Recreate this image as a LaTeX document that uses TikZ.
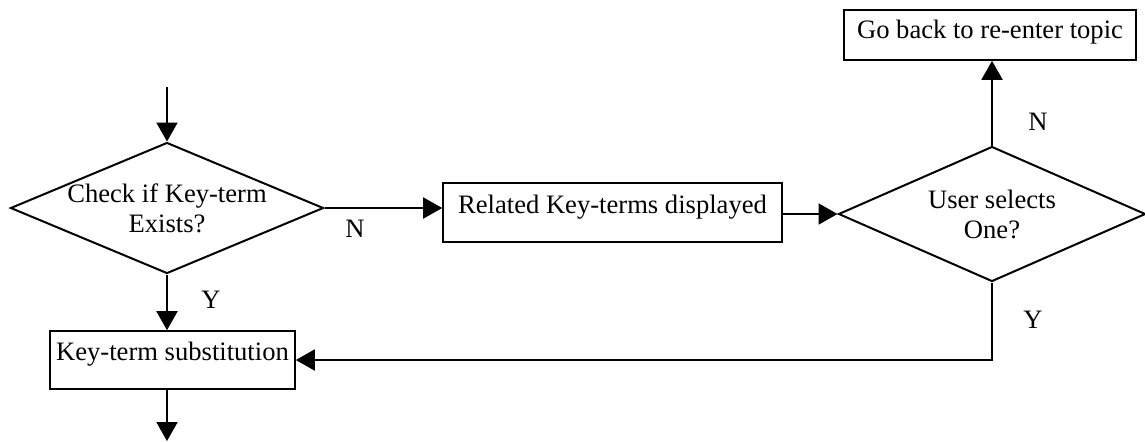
\documentclass[tikz,border=0pt]{standalone}
\usepackage{fontspec}
\setmainfont{Liberation Serif}
\usetikzlibrary{arrows.meta,shapes.geometric}
\tikzset{
  dec/.style={diamond, draw, line width=1pt, aspect=2.35, inner sep=-3pt,
      align=center, font=\fontsize{13.3}{15}\selectfont},
  dbox/.style={rectangle, draw, line width=0.8pt, inner sep=0pt,
      font=\fontsize{13.3}{15}\selectfont},
  lbl/.style={font=\fontsize{13.3}{15}\selectfont},
  arr/.style={-{Triangle[length=9.5pt,width=10.5pt]}, line width=1pt},
}
\begin{document}
\begin{tikzpicture}[x=0.5pt,y=-0.5pt]
\useasboundingbox (0,0) rectangle (1145,441);
% decisions
\node[dec, minimum width=156.5pt, minimum height=65.5pt] (chk) at (167,208)
  {Check if Key-term\\Exists?};
\node[dec, minimum width=153.5pt, minimum height=67.5pt] (usr) at (992,214)
  {User selects\\One?};
% boxes
\node[dbox, minimum width=169.5pt, text height=15pt, text depth=14.5pt] (rel) at (612.5,212.5)
  {Related Key-terms displayed};
\node[dbox, minimum width=146pt, text height=14pt, text depth=11pt] (back) at (990,35)
  {Go back to re-enter topic};
\node[dbox, minimum width=122.5pt, text height=14.5pt, text depth=14.5pt] (sub) at (172.5,360)
  {Key-term substitution};
\coordinate (in) at (167,87);
\coordinate (out) at (167,441);
% connectors
\draw[arr] (in) -- (chk.north);
\draw[arr] (chk.east) -- (chk.east -| rel.west);
\draw[arr] (rel.east |- usr.west) -- (usr.west);
\draw[arr] (usr.north) -- (usr.north |- back.south);
\draw[arr] (usr.south) |- (sub.east);
\draw[arr] (chk.south) -- (chk.south |- sub.north);
\draw[arr] (out |- sub.south) -- (out);
% labels
\node[lbl] (n1) at (355,229) {N};
\node[lbl] (y1) at (211,300) {Y};
\node[lbl] (n2) at (1038,122) {N};
\node[lbl] (y2) at (1033,320) {Y};
\end{tikzpicture}
\end{document}
